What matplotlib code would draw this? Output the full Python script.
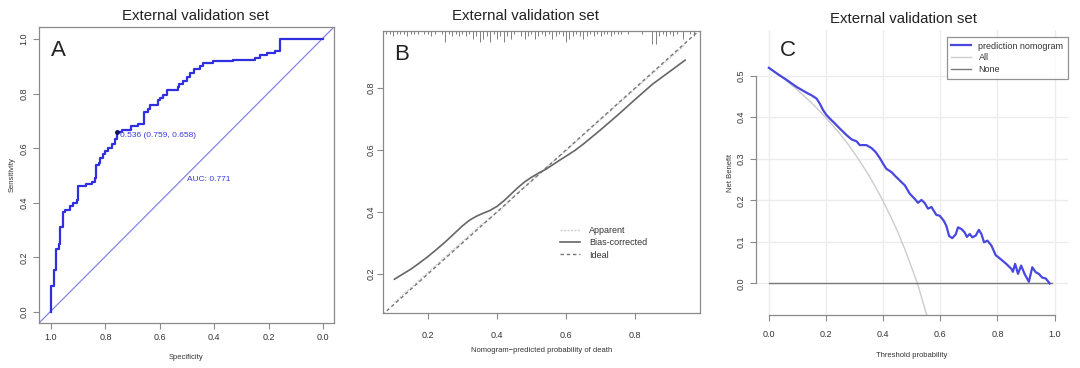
import matplotlib
matplotlib.use("Agg")
import matplotlib.pyplot as plt
import matplotlib.transforms as mtransforms
from matplotlib.lines import Line2D

plt.rcParams['font.family'] = ['Liberation Sans', 'DejaVu Sans']

# ---------------- data ----------------
title_text = "External validation set"

# Panel A: ROC (specificity, sensitivity) step vertices
roc_spec = [1.0, 0.99, 0.98, 0.972, 0.965, 0.955, 0.95, 0.93, 0.92, 0.905, 0.90, 0.87,
            0.85, 0.84, 0.835, 0.825, 0.82, 0.81, 0.80, 0.79, 0.775, 0.765, 0.759, 0.74,
            0.705, 0.68, 0.658, 0.645, 0.636, 0.608, 0.60, 0.587, 0.575, 0.535, 0.528,
            0.515, 0.50, 0.49, 0.475, 0.452, 0.44, 0.403, 0.33, 0.25, 0.232, 0.208, 0.177,
            0.159, 0.0]
roc_sens = [0.0, 0.094, 0.155, 0.23, 0.25, 0.31, 0.365, 0.375, 0.39, 0.40, 0.41, 0.463,
            0.47, 0.475, 0.49, 0.538, 0.545, 0.565, 0.58, 0.59, 0.60, 0.615, 0.635, 0.658,
            0.665, 0.68, 0.69, 0.733, 0.745, 0.76, 0.775, 0.785, 0.795, 0.813, 0.825,
            0.835, 0.845, 0.86, 0.874, 0.89, 0.90, 0.913, 0.918, 0.923, 0.93, 0.94, 0.95,
            0.957, 1.0]
best_threshold = 0.536
best_spec = 0.759
best_sens = 0.658
auc_value = 0.771
roc_ticks = [1.0, 0.8, 0.6, 0.4, 0.2, 0.0]

# Panel B: calibration
bias_x = [0.103, 0.125, 0.15, 0.175, 0.20, 0.225, 0.25, 0.275, 0.30, 0.32, 0.34, 0.36,
          0.38, 0.40, 0.42, 0.44, 0.46, 0.48, 0.50, 0.52, 0.54, 0.56, 0.58, 0.60, 0.625,
          0.65, 0.70, 0.75, 0.80, 0.85, 0.90, 0.945]
bias_y = [0.183, 0.198, 0.215, 0.235, 0.256, 0.279, 0.303, 0.329, 0.355, 0.373, 0.386,
          0.396, 0.405, 0.418, 0.436, 0.457, 0.478, 0.497, 0.512, 0.525, 0.537, 0.551,
          0.566, 0.58, 0.598, 0.619, 0.665, 0.713, 0.763, 0.812, 0.853, 0.89]
app_x = [0.103, 0.20, 0.30, 0.35, 0.37, 0.40, 0.43, 0.45, 0.50, 0.55, 0.60, 0.70, 0.80,
         0.945]
app_y = [0.108, 0.205, 0.305, 0.355, 0.372, 0.398, 0.428, 0.452, 0.502, 0.55, 0.598,
         0.698, 0.797, 0.94]
rug_x = [0.08, 0.09, 0.10, 0.11, 0.12, 0.13, 0.14, 0.15, 0.16, 0.17, 0.19, 0.20, 0.21,
         0.22, 0.24, 0.25, 0.26, 0.27, 0.28, 0.29, 0.30, 0.31, 0.32, 0.33, 0.34, 0.35,
         0.36, 0.37, 0.38, 0.39, 0.40, 0.41, 0.42, 0.43, 0.44, 0.45, 0.47, 0.48, 0.49,
         0.50, 0.51, 0.52, 0.53, 0.54, 0.55, 0.56, 0.57, 0.58, 0.59, 0.60, 0.61, 0.62,
         0.63, 0.64, 0.65, 0.66, 0.67, 0.68, 0.69, 0.70, 0.71, 0.72, 0.73, 0.74, 0.75,
         0.76, 0.78, 0.82, 0.85, 0.86, 0.87, 0.88, 0.89, 0.90, 0.91, 0.92, 0.94, 0.96,
         0.97]
rug_n = [1, 1, 2, 1, 1, 1, 2, 1, 1, 1, 1, 1, 2, 1, 1, 4, 1, 2, 1, 2, 1, 2, 1, 3, 2, 4,
         3, 2, 4, 1, 3, 2, 4, 2, 3, 1, 2, 3, 2, 1, 3, 2, 1, 2, 1, 3, 2, 1, 2, 4, 3, 2,
         1, 2, 3, 2, 1, 2, 1, 2, 1, 1, 2, 1, 1, 1, 1, 1, 5, 5, 2, 1, 2, 1, 2, 1, 3, 1, 2]
cal_ticks = [0.2, 0.4, 0.6, 0.8]
cal_legend = ["Apparent", "Bias-corrected", "Ideal"]

# Panel C: decision curve
dca_x = [0.0, 0.033, 0.062, 0.097, 0.132, 0.149, 0.167, 0.178, 0.19, 0.202, 0.219, 0.231,
         0.248, 0.26, 0.272, 0.289, 0.307, 0.318, 0.341, 0.359, 0.374, 0.388, 0.40, 0.411,
         0.429, 0.446, 0.464, 0.476, 0.493, 0.51, 0.522, 0.534, 0.545, 0.557, 0.569,
         0.586, 0.598, 0.612, 0.621, 0.631, 0.642, 0.654, 0.662, 0.674, 0.685, 0.693,
         0.703, 0.712, 0.724, 0.735, 0.744, 0.753, 0.765, 0.779, 0.794, 0.814, 0.831,
         0.849, 0.854, 0.862, 0.872, 0.883, 0.895, 0.91, 0.922, 0.934, 0.945, 0.957,
         0.969, 0.983]
dca_y = [0.519, 0.503, 0.49, 0.473, 0.459, 0.453, 0.445, 0.433, 0.417, 0.405, 0.393, 0.385,
         0.373, 0.365, 0.357, 0.347, 0.342, 0.333, 0.333, 0.326, 0.316, 0.302, 0.288, 0.276,
         0.268, 0.256, 0.244, 0.236, 0.216, 0.204, 0.194, 0.201, 0.194, 0.18, 0.184,
         0.165, 0.163, 0.151, 0.139, 0.114, 0.109, 0.118, 0.135, 0.131, 0.123, 0.112,
         0.119, 0.111, 0.115, 0.129, 0.119, 0.099, 0.103, 0.091, 0.068, 0.057, 0.047,
         0.035, 0.028, 0.047, 0.023, 0.043, 0.023, 0.004, 0.039, 0.027, 0.023, 0.014,
         0.012, 0.0]
all_x = [0.0, 0.025, 0.05, 0.075, 0.1, 0.125, 0.15, 0.175, 0.2, 0.25, 0.275, 0.3, 0.325,
         0.35, 0.375, 0.4, 0.425, 0.45, 0.475, 0.5, 0.52, 0.535, 0.55, 0.555]
all_y = [0.519, 0.507, 0.494, 0.48, 0.466, 0.45, 0.434, 0.417, 0.399, 0.359, 0.337, 0.313,
         0.287, 0.26, 0.23, 0.198, 0.163, 0.126, 0.084, 0.038, 0.0, -0.035, -0.07, -0.082]
none_x = [0.0, 0.99]
none_y = [0.0, 0.0]
dca_xticks = [0.0, 0.2, 0.4, 0.6, 0.8, 1.0]
dca_yticks = [0.0, 0.1, 0.2, 0.3, 0.4, 0.5]
dca_legend = ["prediction nomogram", "All", "None"]

# ---------------- figure ----------------
W, H = 1080, 368
fig = plt.figure(figsize=(10.8, 3.68), dpi=100)

def rect(l, t, r, b):
    return [l / W, 1 - b / H, (r - l) / W, (b - t) / H]

box_col = '#8a8a8a'
txt_col = '#333333'
tick_fs = 6.5

def style_box(ax, xpad=3.5, ypad=3.5):
    for s in ax.spines.values():
        s.set_color(box_col)
        s.set_linewidth(0.9)
    ax.tick_params(colors=box_col, labelcolor=txt_col, labelsize=tick_fs,
                   length=4, width=0.8, direction='out')
    ax.tick_params(axis='x', pad=xpad)
    ax.tick_params(axis='y', pad=ypad)
    for lab in ax.get_yticklabels():
        lab.set_rotation(90)
        lab.set_va('center')

# ---- Panel A ----
axA = fig.add_axes(rect(39, 27, 334, 323))
axA.plot(roc_spec, roc_sens, drawstyle='steps-pre', color='#2f2fe0', lw=1.6, zorder=3)
axA.plot([1.044, -0.04], [-0.04, 1.044], color='#8585e6', lw=0.9, zorder=2)
axA.plot([best_spec], [best_sens], 'o', ms=2.5, color='#111166', zorder=4)
axA.text(best_spec - 0.012, best_sens - 0.012,
         f"{best_threshold:.3f} ({best_spec:.3f}, {best_sens:.3f})",
         color='#3a3ae0', fontsize=6, ha='left', va='center')
axA.text(0.5, 0.487, f"AUC: {auc_value:.3f}", color='#3a3ae0', fontsize=6,
         ha='left', va='center')
axA.set_xlim(1.044, -0.04)
axA.set_ylim(-0.04, 1.044)
axA.set_xticks(roc_ticks)
axA.set_xticklabels([f"{t:.1f}" for t in roc_ticks])
axA.set_yticks(roc_ticks)
axA.set_yticklabels([f"{t:.1f}" for t in roc_ticks])
style_box(axA)
axA.set_xlabel("Specificity", fontsize=5.5, color=txt_col, labelpad=8)
axA.set_ylabel("Sensitivity", fontsize=5.5, color=txt_col, labelpad=3)
axA.text(0.04, 0.955, "A", transform=axA.transAxes, fontsize=16, ha='left', va='top',
         color='#222222')

# ---- Panel B ----
axB = fig.add_axes(rect(383, 31, 700, 313))
axB.plot([0, 1], [0, 1], color='#777777', lw=1.0, ls=(0, (2.5, 2)), zorder=2)
axB.plot(app_x, app_y, color='#d0d0d0', lw=1.0, ls=(0, (1.5, 1)), zorder=1)
axB.plot(bias_x, bias_y, color='#666666', lw=1.2, zorder=3)
trB = mtransforms.blended_transform_factory(axB.transData, axB.transAxes)
axB.vlines(rug_x, [1.0 - 0.0095 * n for n in rug_n], 1.0, transform=trB,
           color='#808080', lw=0.7)
axB.set_xlim(0.07, 0.988)
axB.set_ylim(0.074, 0.984)
axB.set_xticks(cal_ticks)
axB.set_xticklabels([f"{t:.1f}" for t in cal_ticks])
axB.set_yticks(cal_ticks)
axB.set_yticklabels([f"{t:.1f}" for t in cal_ticks])
style_box(axB, xpad=9, ypad=1)
axB.set_xlabel("Nomogram\u2212predicted probability of death", fontsize=5.5,
               color=txt_col, labelpad=5)
axB.text(0.035, 0.955, "B", transform=axB.transAxes, fontsize=16, ha='left', va='top',
         color='#222222')
hB = [Line2D([], [], color='#d0d0d0', lw=1.0, ls=(0, (1.5, 1))),
      Line2D([], [], color='#666666', lw=1.2),
      Line2D([], [], color='#777777', lw=1.0, ls=(0, (2.5, 2)))]
legB = axB.legend(hB, cal_legend, loc='upper left', bbox_to_anchor=(0.54, 0.33),
                  frameon=False, fontsize=6.5, handlelength=2.2, handletextpad=1.0,
                  labelspacing=0.35, borderpad=0.2)
for t in legB.get_texts():
    t.set_color(txt_col)

# ---- Panel C ----
axC = fig.add_axes(rect(756, 30, 1068, 315))
axC.set_xlim(-0.045, 1.047)
axC.set_ylim(-0.076, 0.61)
for gx in dca_xticks:
    axC.axvline(gx, color='#ececec', lw=1.0, zorder=0)
for gy in dca_yticks:
    axC.axhline(gy, color='#ececec', lw=1.0, zorder=0)
axC.plot(all_x, all_y, color='#cccccc', lw=1.0, zorder=2)
axC.plot(none_x, none_y, color='#7a7a7a', lw=1.0, zorder=2)
axC.plot(dca_x, dca_y, color='#4848e0', lw=1.6, zorder=3)
axC.set_xticks(dca_xticks)
axC.set_xticklabels([f"{t:.1f}" for t in dca_xticks])
axC.set_yticks(dca_yticks)
axC.set_yticklabels([f"{t:.1f}" for t in dca_yticks])
for s in ['top', 'right']:
    axC.spines[s].set_visible(False)
axC.spines['left'].set_bounds(0.0, 0.5)
axC.spines['bottom'].set_bounds(0.0, 1.0)
style_box(axC, xpad=7, ypad=3.5)
axC.set_xlabel("Threshold probability", fontsize=5.5, color=txt_col, labelpad=9)
axC.set_ylabel("Net Benefit", fontsize=5.5, color=txt_col, labelpad=2)
axC.text(0.078, 0.965, "C", transform=axC.transAxes, fontsize=16, ha='left', va='top',
         color='#222222')
hC = [Line2D([], [], color='#4848e0', lw=1.6),
      Line2D([], [], color='#cccccc', lw=1.0),
      Line2D([], [], color='#7a7a7a', lw=1.0)]
legC = axC.legend(hC, dca_legend, loc='upper right', bbox_to_anchor=(1.0, 0.975),
                  borderaxespad=0, frameon=True, fontsize=6.5, handlelength=2.2,
                  handletextpad=0.8, labelspacing=0.3, borderpad=0.5, fancybox=False)
legC.get_frame().set_edgecolor('#777777')
legC.get_frame().set_linewidth(0.9)
for t in legC.get_texts():
    t.set_color(txt_col)

# ---- titles ----
fig.text(195 / W, 1 - 16 / H, title_text, ha='center', va='center', fontsize=10.8,
         color='#222222')
fig.text(525 / W, 1 - 16 / H, title_text, ha='center', va='center', fontsize=10.8,
         color='#222222')
fig.text(904 / W, 1 - 19 / H, title_text, ha='center', va='center', fontsize=10.8,
         color='#222222')

fig.savefig("out.png", dpi=100)
